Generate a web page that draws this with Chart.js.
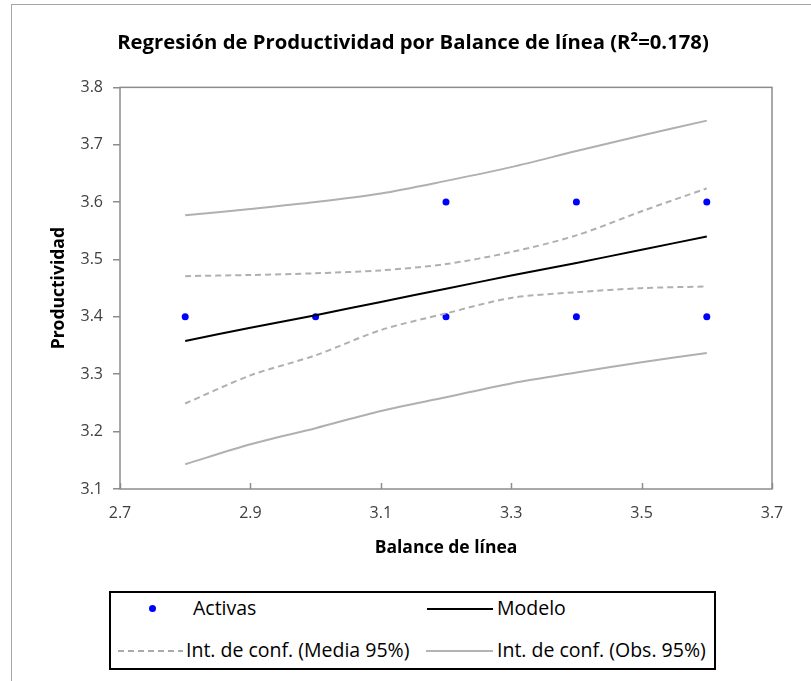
<!DOCTYPE html>
<html>
<head>
<meta charset="utf-8">
<script src="https://cdn.jsdelivr.net/npm/chart.js@4.4.1/dist/chart.umd.min.js"></script>
<style>
  body { margin: 0; background: #fff; overflow: hidden; font-family: "Open Sans", sans-serif; }
  #frame { position: absolute; left: 11px; top: 4px; width: 900px; height: 800px; border: 1.5px solid #a6a6a6; }
  #wrap { position: absolute; left: 0; top: 0; width: 811px; height: 681px; }
  #legend { position: absolute; left: 109px; top: 591px; width: 603px; height: 75px; border: 2px solid #000; background: #fff; }
  #legend .txt { position: absolute; font-size: 19.5px; color: #000; line-height: 24px; white-space: nowrap; }
  #legend .mk { position: absolute; }
</style>
</head>
<body>
<div id="frame"></div>
<div id="wrap"><canvas id="chart" width="811" height="681"></canvas></div>
<div id="legend">
  <div class="mk" style="left:38px;top:12px;width:7px;height:7px;border-radius:50%;background:#0000ff"></div>
  <div class="txt" style="left:82px;top:3px">Activas</div>
  <div class="mk" style="left:316px;top:15px;width:66px;height:2px;background:#000"></div>
  <div class="txt" style="left:386px;top:3px">Modelo</div>
  <div class="mk" style="left:7px;top:57px;width:65px;height:2px;background:repeating-linear-gradient(to right,#aaaaaa 0 6px,transparent 6px 10px)"></div>
  <div class="txt" style="left:75px;top:45px">Int. de conf. (Media 95%)</div>
  <div class="mk" style="left:315px;top:57px;width:67px;height:2px;background:#b4b4b4"></div>
  <div class="txt" style="left:386px;top:45px">Int. de conf. (Obs. 95%)</div>
</div>
<script>
// observations
const activasX = [2.8, 3.0, 3.2, 3.2, 3.4, 3.4, 3.6, 3.6];
const activasY = [3.4, 3.4, 3.6, 3.4, 3.6, 3.4, 3.6, 3.4];

// curves
const balance = [2.8, 2.9, 3.0, 3.1, 3.2, 3.3, 3.4, 3.5, 3.6];
const modelo = [3.358, 3.381, 3.403, 3.426, 3.449, 3.472, 3.494, 3.517, 3.540];
const mediaSup = [3.471, 3.473, 3.476, 3.481, 3.492, 3.513, 3.542, 3.584, 3.624];
const mediaInf = [3.249, 3.298, 3.333, 3.377, 3.406, 3.433, 3.443, 3.450, 3.453];
const obsSup = [3.577, 3.588, 3.600, 3.615, 3.637, 3.661, 3.689, 3.716, 3.742];
const obsInf = [3.143, 3.178, 3.206, 3.236, 3.260, 3.284, 3.303, 3.321, 3.337];

const xTicks = [2.7, 2.9, 3.1, 3.3, 3.5, 3.7];
const yTicks = [3.1, 3.2, 3.3, 3.4, 3.5, 3.6, 3.7, 3.8];

const toPts = (xs, ys) => xs.map((x, i) => ({ x: x, y: ys[i] }));

const axisGray = '#8c8c8c';
const ciGray = '#b0b0b0';
const FONT = 'Open Sans';

const plotFrame = {
  id: 'plotFrame',
  afterLayout(chart) {
    // the title sits a bit right of the canvas centre
    const t = chart.titleBlock;
    if (t) { t.left += 17; t.right += 17; }
  },
  beforeDatasetsDraw(chart) {
    const { ctx, chartArea: a, scales: { x } } = chart;
    ctx.save();
    ctx.strokeStyle = axisGray;
    ctx.lineWidth = 1.5;
    ctx.strokeRect(a.left, a.top, a.right - a.left, a.bottom - a.top);
    xTicks.forEach(v => {
      const px = Math.round(x.getPixelForValue(v)) + 0.5;
      ctx.beginPath();
      ctx.moveTo(px, a.bottom);
      ctx.lineTo(px, a.bottom - 6);
      ctx.stroke();
    });
    ctx.restore();
  }
};

const line = (label, ys, color, dash) => ({
  label: label,
  data: toPts(balance, ys),
  showLine: true,
  borderColor: color,
  borderWidth: 2,
  borderDash: dash || [],
  pointRadius: 0,
  tension: 0.3,
  fill: false
});

new Chart(document.getElementById('chart'), {
  type: 'scatter',
  data: {
    datasets: [
      line('Int. de conf. (Obs. 95%)', obsSup, ciGray),
      line('Int. de conf. (Obs. 95%)', obsInf, ciGray),
      line('Int. de conf. (Media 95%)', mediaSup, ciGray, [6, 4]),
      line('Int. de conf. (Media 95%)', mediaInf, ciGray, [6, 4]),
      line('Modelo', modelo, '#000000'),
      {
        label: 'Activas',
        data: toPts(activasX, activasY),
        pointRadius: 3.5,
        pointBackgroundColor: '#0000ff',
        pointBorderWidth: 0,
        showLine: false
      }
    ]
  },
  options: {
    responsive: false,
    animation: false,
    layout: { padding: { left: 20, right: 39, top: 0, bottom: 122 } },
    plugins: {
      legend: { display: false },
      tooltip: { enabled: false },
      title: {
        display: true,
        text: 'Regresión de Productividad por Balance de línea (R²=0.178)',
        color: '#000',
        font: { family: FONT, size: 20.3, weight: 'bold' },
        padding: { top: 31, bottom: 32 }
      }
    },
    scales: {
      x: {
        type: 'linear',
        min: 2.7,
        max: 3.7,
        afterBuildTicks: s => { s.ticks = xTicks.map(v => ({ value: v })); },
        afterFit: s => { s.height = 70; },
        grid: { display: false, drawTicks: false },
        border: { display: false },
        ticks: {
          color: '#404040',
          font: { family: FONT, size: 16 },
          padding: 15,
          maxRotation: 0,
          callback: v => v.toFixed(1)
        },
        title: {
          display: true,
          text: 'Balance de línea',
          color: '#000',
          font: { family: FONT, size: 17.5, weight: 'bold' },
          padding: 0
        }
      },
      y: {
        type: 'linear',
        min: 3.1,
        max: 3.8,
        afterBuildTicks: s => { s.ticks = yTicks.map(v => ({ value: v })); },
        afterFit: s => { s.width = 100; },
        grid: { drawOnChartArea: false, drawTicks: true, tickLength: 7, color: axisGray, lineWidth: 1.5 },
        border: { display: false },
        ticks: {
          color: '#404040',
          font: { family: FONT, size: 16 },
          padding: 10,
          callback: v => v.toFixed(1)
        },
        title: {
          display: true,
          text: 'Productividad',
          color: '#000',
          font: { family: FONT, size: 17.5, weight: 'bold' },
          padding: 29
        }
      }
    }
  },
  plugins: [plotFrame]
});
</script>
</body>
</html>
